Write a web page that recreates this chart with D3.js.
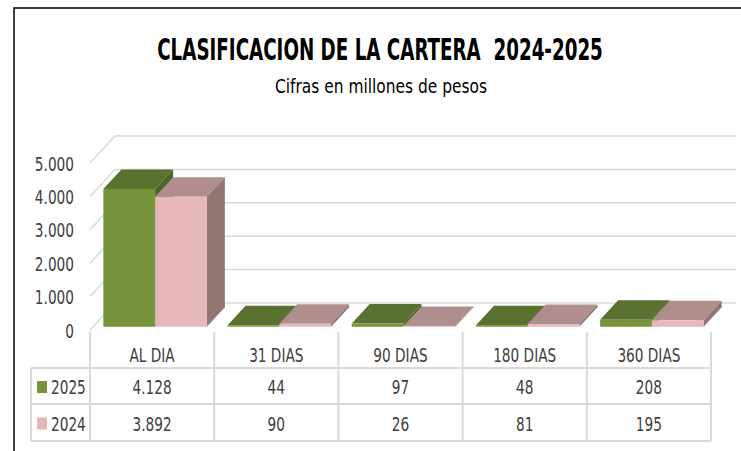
<!DOCTYPE html>
<html lang="es">
<head>
<meta charset="utf-8">
<title>Clasificacion de la cartera</title>
<script src="https://cdn.jsdelivr.net/npm/d3@7"></script>
<style>
  body { margin: 0; background: #fff; }
  svg text { font-family: "DejaVu Sans Condensed", "Liberation Sans", sans-serif; fill: #404040; }
  .title text { fill: #000; }
</style>
</head>
<body>
<div id="chart"></div>
<script>
// datos (millones de pesos)
var categories = ["AL DIA", "31 DIAS", "90 DIAS", "180 DIAS", "360 DIAS"];
var values2025 = [4128, 44, 97, 48, 208];
var values2024 = [3892, 90, 26, 81, 195];
var seriesNames = ["2025", "2024"];
var yTicks = [0, 1000, 2000, 3000, 4000, 5000];

var W = 741, H = 451;
var DX = 25, DY = 27;          // profundidad del 3D
var z0 = 0.12, z1 = 0.84;      // posicion de las barras dentro de la profundidad

var colors = {
  "2025": { front: "#77933c", top: "#5a7130", side: "#4f6429" },
  "2024": { front: "#e6b9b8", top: "#b08e8d", side: "#937574" }
};

var es = d3.formatLocale({ decimal: ",", thousands: ".", grouping: [3], currency: ["$", ""] });
var fmt = es.format(",d");

// estrecha el texto (la fuente original es mas angosta)
function condense(sel, k) {
  sel.each(function () {
    var len = this.getComputedTextLength();
    d3.select(this).attr("textLength", len * k).attr("lengthAdjust", "spacingAndGlyphs");
  });
}

var svg = d3.select("#chart").append("svg")
  .attr("width", W).attr("height", H);

// marco
svg.append("path")
  .attr("d", "M14," + H + " L14,8 L" + W + ",8")
  .attr("fill", "none").attr("stroke", "#000").attr("stroke-width", 1.5);

// titulos (escalados en horizontal hasta el ancho del original)
var t = svg.append("g").attr("class", "title");
function titleLine(txt, cx, by, size, weight, width) {
  var g = t.append("g");
  var el = g.append("text").attr("text-anchor", "middle")
    .style("font-size", size + "px").style("font-weight", weight).text(txt);
  var k = width / el.node().getComputedTextLength();
  g.attr("transform", "translate(" + cx + "," + by + ") scale(" + k + ",1)");
}
titleLine("CLASIFICACION DE LA CARTERA\u00a0\u00a02024-2025", 380, 60, 30, "bold", 446);
titleLine("Cifras en millones de pesos", 381, 93, 20, "normal", 212);

var x = d3.scaleBand().domain(categories).range([90, 711]);
var xs = d3.scaleBand().domain(seriesNames).range([0, x.bandwidth()]).paddingOuter(0.2);
var y = d3.scaleLinear().domain([0, 5000]).range([330, 163]);

function proj(px, py, z) { return [px + z * DX, py - z * DY]; }

// rejilla: pared del fondo y pared lateral
var grid = svg.append("g").attr("stroke", "#d9d9d9").attr("stroke-width", 1.5).attr("fill", "none");
yTicks.forEach(function (v) {
  var a = proj(x.range()[0], y(v), 1), b = proj(x.range()[1], y(v), 1);
  grid.append("line").attr("x1", a[0]).attr("y1", a[1]).attr("x2", b[0]).attr("y2", b[1]);
  grid.append("line").attr("x1", x.range()[0]).attr("y1", y(v)).attr("x2", a[0]).attr("y2", a[1]);
});

// eje y
var yAxis = svg.append("g")
  .attr("transform", "translate(80,1)")
  .call(d3.axisLeft(y).tickValues(yTicks).tickFormat(fmt).tickSize(0).tickPadding(6));
yAxis.select(".domain").remove();
yAxis.selectAll("text").style("font-size", "19px").attr("fill", "#404040")
  .style("font-family", "'DejaVu Sans Condensed', 'Liberation Sans', sans-serif")
  .call(condense, 0.8);

// barras
var series = [
  { name: "2025", values: values2025 },
  { name: "2024", values: values2024 }
];
var bars = svg.append("g");
categories.forEach(function (c, i) {
  series.forEach(function (s) {
    var col = colors[s.name];
    var w = xs.bandwidth();
    var f = proj(x(c) + xs(s.name), y(s.values[i]), z0);
    var fb = proj(x(c) + xs(s.name), y(0), z0);
    var dx = (z1 - z0) * DX, dy = (z1 - z0) * DY;
    var xl = f[0], yt = f[1], yb = fb[1];
    // cara superior
    bars.append("polygon")
      .attr("points", [[xl, yt], [xl + w, yt], [xl + w + dx, yt - dy], [xl + dx, yt - dy]].join(" "))
      .attr("fill", col.top);
    // cara lateral
    bars.append("polygon")
      .attr("points", [[xl + w, yt], [xl + w + dx, yt - dy], [xl + w + dx, yb - dy], [xl + w, yb]].join(" "))
      .attr("fill", col.side);
    // cara frontal
    bars.append("rect")
      .attr("x", xl).attr("y", yt).attr("width", w).attr("height", Math.max(0, yb - yt))
      .attr("fill", col.front);
  });
});

// tabla de datos
var rowTop = [332, 368, 404, 441];
var legendLeft = 31;
var tbl = svg.append("g").attr("stroke", "#d9d9d9").attr("stroke-width", 2).attr("fill", "none");
var edges = [x.range()[0]].concat(categories.map(function (c) { return x(c) + x.bandwidth(); }));
edges.forEach(function (ex) {
  tbl.append("line").attr("x1", ex).attr("x2", ex).attr("y1", rowTop[0]).attr("y2", rowTop[3]);
});
tbl.append("line").attr("x1", legendLeft).attr("x2", legendLeft).attr("y1", rowTop[1]).attr("y2", rowTop[3]);
[1, 2, 3].forEach(function (k) {
  tbl.append("line").attr("x1", legendLeft).attr("x2", x.range()[1]).attr("y1", rowTop[k]).attr("y2", rowTop[k]);
});

var cells = svg.append("g").style("font-size", "19px");
categories.forEach(function (c) {
  cells.append("text").attr("x", x(c) + x.bandwidth() / 2).attr("y", 355)
    .attr("text-anchor", "middle").attr("dominant-baseline", "central").text(c);
});
series.forEach(function (s, r) {
  var cy = (rowTop[r + 1] + rowTop[r + 2]) / 2 + 1;
  cells.append("rect").attr("x", 37).attr("y", cy - 6).attr("width", 10).attr("height", 12)
    .attr("fill", colors[s.name].front);
  cells.append("text").attr("x", 51).attr("y", cy).attr("dominant-baseline", "central").text(s.name);
  s.values.forEach(function (v, i) {
    cells.append("text").attr("x", x(categories[i]) + x.bandwidth() / 2).attr("y", cy)
      .attr("text-anchor", "middle").attr("dominant-baseline", "central").text(fmt(v));
  });
});
cells.selectAll("text").call(condense, 0.8);
</script>
</body>
</html>
